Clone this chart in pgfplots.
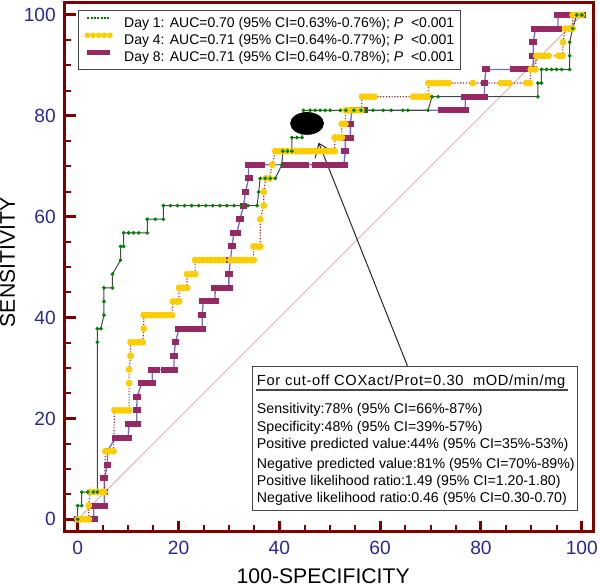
\documentclass[border=0pt]{standalone}
\usepackage{fontspec}
\setmainfont{Liberation Sans}
\usepackage{pgfplots}
\pgfplotsset{compat=1.18}
\usetikzlibrary{arrows.meta}
\definecolor{framered}{RGB}{128,0,0}
\definecolor{tickblue}{RGB}{40,40,150}
\definecolor{dgreen}{RGB}{0,130,0}
\definecolor{dgray}{RGB}{70,70,70}
\definecolor{gold}{RGB}{255,204,0}
\definecolor{dred}{RGB}{165,40,40}
\definecolor{lblue}{RGB}{110,110,210}
\definecolor{plum}{RGB}{150,40,100}
\definecolor{diag}{RGB}{222,165,165}
\begin{document}
\begin{tikzpicture}
\begin{axis}[
  scale only axis, width=317pt, height=317.4pt,
  xmin=-2.52, xmax=102.3, ymin=-2.42, ymax=102.48,
  axis line style={framered, line width=1.8pt},
  tick align=inside, tick pos=left,
  xtick={0,20,...,100}, ytick={0,20,...,100},
  minor tick num=3,
  major tick length=6.6pt, minor tick length=3.9pt,
  major tick style={framered, line width=1.8pt},
  minor tick style={framered, line width=1.2pt},
  tick label style={font=\fontsize{11.5}{13}\selectfont, text=tickblue},
  /pgf/number format/assume math mode=true,
  xticklabel style={yshift=-2pt},
  yticklabel style={xshift=-2pt},
  xlabel={100-SPECIFICITY}, ylabel={SENSITIVITY},
  every axis x label/.style={at={(axis description cs:0.5,0)}, xshift=-3.6pt, yshift=-31.2pt, anchor=base, font=\fontsize{12.7}{15}\selectfont},
  every axis y label/.style={at={(axis description cs:0,0.5)}, xshift=-30pt, yshift=2.7pt, rotate=90, anchor=base, font=\fontsize{12.7}{15}\selectfont},
  legend style={at={(rel axis cs:0,1)}, anchor=north west, xshift=7.8pt, yshift=-4.5pt,
    draw=dgray, line width=0.6pt, inner xsep=3.6pt, inner ysep=3pt, row sep=1.2pt,
    font=\fontsize{8.4}{10}\selectfont,
    nodes={inner sep=0pt, text height=7pt, text depth=2pt},
    /tikz/every odd column/.style={column sep=6.6pt}},
  legend cell align=left,
  legend image code/.code={\draw[#1] (0pt,2.8pt) -- (13.8pt,2.8pt);},
]
\addlegendimage{dgreen, line width=1pt, dash pattern=on 1.2pt off 0.8pt}
\addlegendentry{Day 1: AUC=0.70 (95\% CI=0.63\%-0.76\%); \textit{P}\ \ <0.001}
\addlegendimage{gold, line width=3.4pt, line cap=round, dash pattern=on 0pt off 3.4pt}
\addlegendentry{Day 4: AUC=0.71 (95\% CI=0.64\%-0.77\%); \textit{P}\ \ <0.001}
\addlegendimage{plum, line width=3pt}
\addlegendentry{Day 8: AUC=0.71 (95\% CI=0.64\%-0.78\%); \textit{P}\ \ <0.001}

% reference diagonal
\addplot[diag, line width=0.45pt, forget plot] coordinates {(0,0) (100,100)};

% Day 8
\addplot[lblue, line width=0.8pt, mark=square*, mark size=1.4pt,
  mark options={solid, xscale=1.4, fill=plum, draw=plum}, forget plot] coordinates {
(0,0) (3.2,0) (3.2,2.7) (4.2,2.7) (4.8,2.7) (5.3,2.7) (5.3,5.4) (5.3,8.1) (5.9,10.8) (5.9,13.5)
(7.5,16.2) (8.3,16.2) (9.1,16.2) (10.0,16.2) (10.2,18.9) (11.0,18.9) (11.7,18.9) (11.7,21.6)
(11.8,24.3) (12.7,27.0) (13.5,27.0) (14.3,27.0) (14.8,27.0) (14.8,29.7) (15.6,29.7) (17.4,29.7)
(18.3,29.7) (19.1,29.7) (19.1,32.4) (19.4,35.1) (20.1,37.8) (20.9,37.8) (21.7,37.8) (22.5,37.8)
(23.3,37.8) (24.1,37.8) (24.7,37.8) (24.7,40.5) (24.9,43.2) (25.7,43.2) (26.5,43.2) (27.2,43.2)
(27.3,45.9) (28.3,45.9) (29.1,45.9) (30.0,45.9) (30.0,48.6) (30.3,51.4) (30.6,54.1) (31.0,56.8)
(31.6,56.8) (32.2,59.5) (32.9,62.2) (33.3,64.9) (33.9,67.6) (33.9,70.3) (34.7,70.3) (35.5,70.3)
(36.3,70.3) (41.2,70.3) (42.0,70.3) (42.8,70.3) (43.6,70.3) (44.4,70.3) (45.2,70.3) (47.2,70.3)
(48.0,70.3) (48.8,70.3) (49.6,70.3) (50.4,70.3) (51.2,70.3) (52.0,70.3) (52.8,70.3) (53.1,73.0)
(53.1,75.7) (54.1,75.7) (54.1,78.4) (54.4,81.1) (55.2,81.1) (56.0,81.1) (56.8,81.1) (72.3,81.1)
(73.1,81.1) (73.9,81.1) (74.7,81.1) (75.5,81.1) (76.3,81.1) (76.9,81.1) (76.9,83.8) (77.7,83.8)
(78.5,83.8) (79.3,83.8) (80.1,83.8) (80.7,83.8) (80.7,86.5) (81.0,89.2) (86.6,89.2) (87.4,89.2)
(88.2,89.2) (89.0,89.2) (89.8,89.2) (90.4,89.2) (90.4,91.9) (90.4,94.6) (90.8,97.3) (91.6,97.3)
(92.4,97.3) (93.2,97.3) (94.0,97.3) (94.8,97.3) (95.3,97.3) (95.3,100) (96.1,100) (96.9,100)
(97.7,100) (98.5,100) (99.3,100) (100,100)
};

% Day 4
\addplot[dred, line width=0.7pt, densely dotted, mark=*, mark size=1.7pt,
  mark options={solid, fill=gold, draw=gold}, forget plot] coordinates {
(0,0) (0.6,0) (1.4,0) (2.2,0) (2.2,2.7) (2.4,5.4) (3.2,5.4) (4.0,5.4) (4.8,5.4) (5.3,5.4)
(5.5,13.5) (6.3,13.5) (7.1,13.5) (7.3,21.6) (8.1,21.6) (8.9,21.6) (9.7,21.6) (10.2,21.6)
(10.2,27.0) (10.2,29.7) (10.5,32.4) (10.5,35.1) (11.3,35.1) (12.1,35.1) (12.9,35.1) (13.1,37.8)
(13.1,40.5) (13.9,40.5) (14.7,40.5) (15.5,40.5) (16.3,40.5) (17.1,40.5) (17.9,40.5) (18.7,40.5)
(18.9,43.2) (19.7,43.2) (20.1,43.2) (20.1,45.9) (20.9,45.9) (21.7,45.9) (21.7,48.6) (22.5,48.6)
(23.3,48.6) (23.3,51.4) (24.1,51.4) (24.9,51.4) (25.7,51.4) (26.5,51.4) (27.3,51.4) (28.1,51.4)
(28.9,51.4) (30.3,51.4) (31.1,51.4) (31.9,51.4) (32.7,51.4) (33.5,51.4) (34.3,51.4) (34.9,51.4)
(34.9,54.1) (35.6,54.1) (36.2,54.1) (36.2,59.5) (36.9,62.2) (36.9,64.9) (37.3,67.6) (38.1,67.6)
(38.6,70.3) (39.2,73.0) (40.0,73.0) (40.8,73.0) (41.6,73.0) (42.4,73.0) (43.2,73.0) (44.0,73.0)
(44.8,73.0) (45.6,73.0) (46.4,73.0) (47.2,73.0) (48.0,73.0) (48.8,73.0) (49.6,73.0) (50.4,73.0)
(51.0,73.0) (51.0,75.7) (51.8,75.7) (52.4,75.7) (52.4,78.4) (53.1,78.4) (53.1,81.1) (53.9,81.1)
(54.7,81.1) (55.5,81.1) (56.3,81.1) (56.4,83.8) (57.2,83.8) (58.0,83.8) (58.8,83.8) (66.6,83.8)
(67.4,83.8) (68.2,83.8) (69.0,83.8) (69.6,83.8) (69.6,86.5) (70.4,86.5) (71.2,86.5) (72.0,86.5)
(72.8,86.5) (73.6,86.5) (78.4,86.5) (84.0,86.5) (84.8,86.5) (85.6,86.5) (89.0,86.5) (89.7,86.5)
(89.9,89.2) (90.8,89.2) (91.0,91.9) (91.8,91.9) (92.6,91.9) (93.4,91.9) (95.4,91.9) (96.2,91.9)
(96.3,94.6) (96.7,97.3) (97.5,97.3) (98.2,97.3) (98.2,100) (99.1,100) (100,100)
};

% Day 1
\addplot[dgray, line width=0.6pt, mark=*, mark size=0.8pt,
  mark options={solid, fill=dgreen, draw=dgreen}, forget plot] coordinates {
(0,0) (0,2.7) (0.8,2.7) (0.8,5.4) (2.0,5.4) (3.1,5.4) (3.9,5.4) (3.9,35.1) (3.9,37.8) (4.6,37.8)
(5.2,40.5) (5.2,43.2) (5.2,45.9) (6.9,45.9) (6.9,48.6) (8.5,51.4) (8.5,54.1) (9.1,54.1) (9.1,56.8)
(10.1,56.8) (11.1,56.8) (12.1,56.8) (13.8,56.8) (13.8,59.5) (15.4,59.5) (17.0,59.5) (17.0,62.2)
(18.4,62.2) (19.8,62.2) (21.2,62.2) (22.6,62.2) (24.0,62.2) (25.4,62.2) (26.8,62.2) (28.2,62.2)
(29.6,62.2) (31.0,62.2) (32.4,62.2) (33.8,62.2) (35.6,62.2) (35.9,64.9) (36.2,67.6) (37.2,67.6)
(38.2,67.6) (39.2,67.6) (40.5,70.3) (40.7,73.0) (41.6,73.0) (42.5,73.0) (42.5,75.7) (43.5,75.7)
(44.5,75.7) (44.5,78.4) (44.8,81.1) (46.1,81.1) (47.1,81.1) (48.1,81.1) (49.1,81.1) (50.1,81.1)
(52.1,81.1) (53.2,81.1) (54.8,81.1) (56.2,81.1) (57.2,81.1) (58.6,81.1) (60.6,81.1) (62.2,81.1)
(64.5,81.1) (65.5,81.1) (69.5,81.1) (70.3,83.8) (71.5,83.8) (91.3,83.8) (91.3,86.5) (92.0,86.5)
(92.0,89.2) (93.0,89.2) (94.0,89.2) (95.0,89.2) (96.0,89.2) (97.6,89.2) (97.6,91.9) (97.6,94.6)
(98.2,97.3) (99.0,100) (100,100)
};

% cut-off point
\addplot[only marks, mark=*, mark size=6.6pt,
  mark options={xscale=1.5, fill=black, draw=black}, forget plot] coordinates {(45.5,78.5)};

% arrow
\addplot[black!85, line width=0.6pt, -{Straight Barb[length=7.5pt,width=11pt]}, forget plot]
  coordinates {(65.5,30.2) (47.8,74.7)};

% annotation box
\draw[dgray, line width=0.6pt, fill=white] (axis cs:34.6,1.84) rectangle (axis cs:99.1,30.2);
\node[anchor=base west, inner sep=0pt, font=\fontsize{8.8}{10}\selectfont\addfontfeature{LetterSpace=4.5}]
  at (axis cs:35.5,26.49) {For cut-off COXact/Prot=0.30\ \ mOD/min/mg};
\draw[dgray, line width=1.2pt] (axis cs:35.4,25.6) -- (axis cs:97.3,25.6);
\begin{scope}[every node/.style={anchor=base west, inner sep=0pt, font=\fontsize{8.5}{10}\selectfont}]
\node at (axis cs:35.5,20.88) {Sensitivity:78\% (95\% CI=66\%-87\%)};
\node at (axis cs:35.5,17.37) {Specificity:48\% (95\% CI=39\%-57\%)};
\node at (axis cs:35.5,14.08) {Positive predicted value:44\% (95\% CI=35\%-53\%)};
\node at (axis cs:35.5,10.11) {Negative predicted value:81\% (95\% CI=70\%-89\%)};
\node at (axis cs:35.5,6.80) {Positive likelihood ratio:1.49 (95\% CI=1.20-1.80)};
\node at (axis cs:35.5,3.37) {Negative likelihood ratio:0.46 (95\% CI=0.30-0.70)};
\end{scope}
\end{axis}
\pgfresetboundingbox
\path ([shift={(-39pt,-33.3pt)}]current axis.south west) rectangle ([shift={(4pt,1.5pt)}]current axis.north east);
\end{tikzpicture}
\end{document}
